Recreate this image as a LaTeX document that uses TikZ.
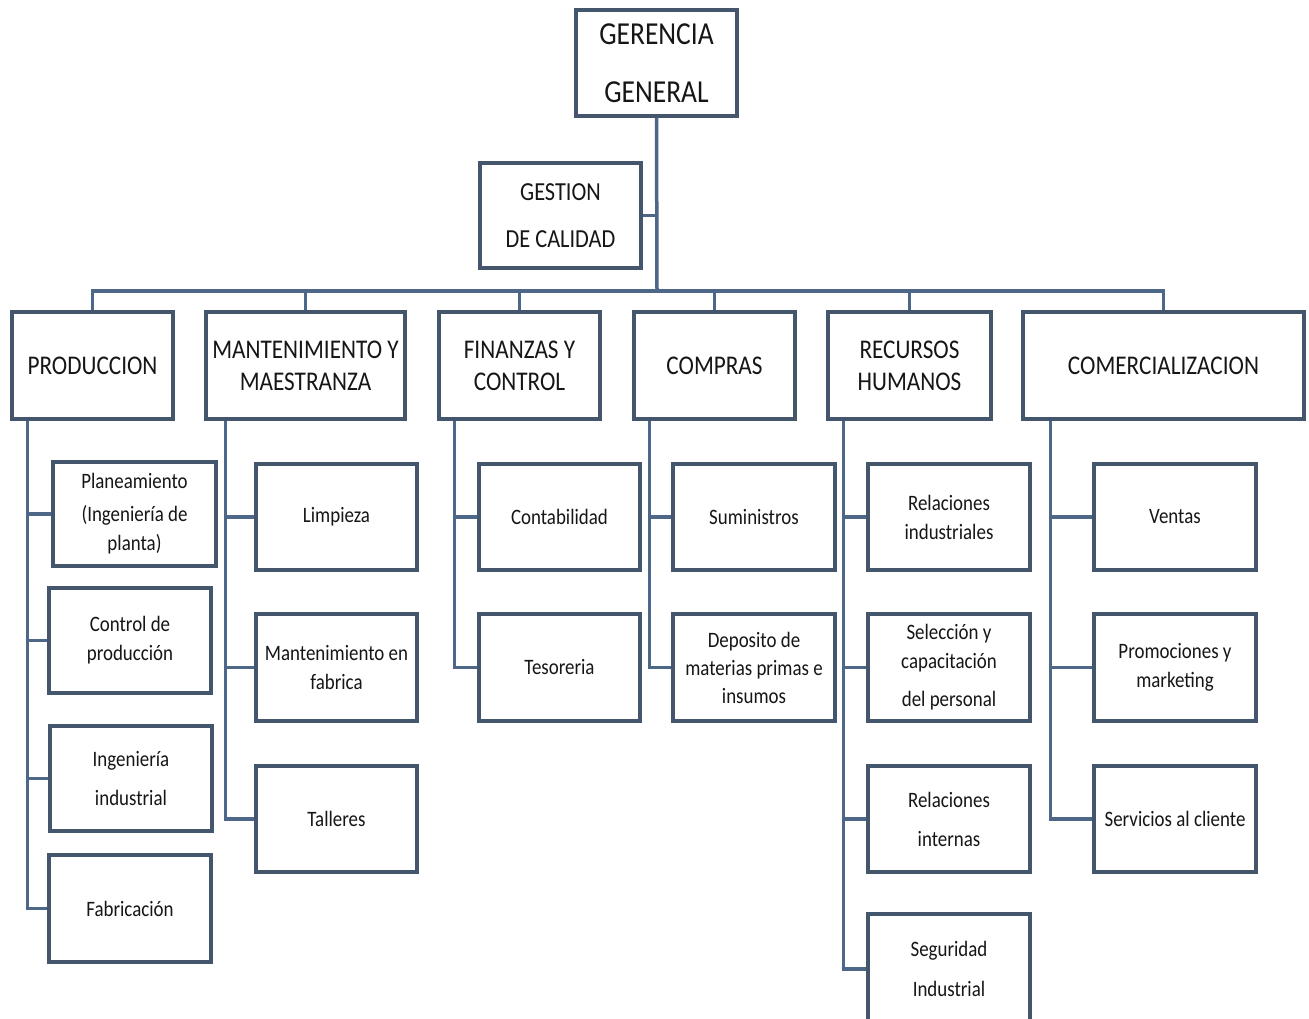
\documentclass[tikz,border=0pt]{standalone}
\usepackage{fontspec}
\setmainfont{Carlito}[FakeStretch=0.86]
\begin{document}
\definecolor{linec}{RGB}{76,103,136}
\definecolor{boxc}{RGB}{68,86,108}
\definecolor{txtc}{RGB}{22,22,22}
\tikzset{
  orgbox/.style={draw=boxc, line width=3.5pt, fill=white, align=center,
    inner sep=0pt, text=txtc},
  link/.style={draw=linec, line width=3.5pt},
}
% \obox{name}{x1}{y1}{x2}{y2}{font}{text}
\newcommand\obox[7]{%
  \node[orgbox, font=#6, minimum width={#4-#2}, minimum height={#5-#3}]
    (#1) at ({(#2+#4)/2},{(#3+#5)/2}) {#7};}
\newcommand\fgg{\fontsize{32}{58}\selectfont}
\newcommand\fgc{\fontsize{26}{47}\selectfont}
\newcommand\fdep{\fontsize{27}{32}\selectfont}
\newcommand\fsub{\fontsize{22}{29}\selectfont}
\begin{tikzpicture}[x=1pt,y=-1pt]
\clip (0,0) rectangle (1309,1019);
\useasboundingbox[fill=white] (0,0) rectangle (1309,1019);

% top level
\obox{gg}{576}{10}{737}{116}{\fgg}{GERENCIA\\GENERAL}
\obox{gc}{480}{163}{641}{268}{\fgc}{GESTION\\DE CALIDAD}
\coordinate (bus) at (657,291);

% departments
\obox{prod}{12}{312}{173}{419}{\fdep}{PRODUCCION}
\obox{mant}{206}{312}{405}{419}{\fdep}{MANTENIMIENTO Y\\MAESTRANZA}
\obox{fin}{439}{312}{600}{419}{\fdep}{FINANZAS Y\\CONTROL}
\obox{comp}{634}{312}{795}{419}{\fdep}{COMPRAS}
\obox{rrhh}{828}{312}{991}{419}{\fdep}{RECURSOS\\HUMANOS}
\obox{com}{1023}{312}{1304}{419}{\fdep}{COMERCIALIZACION}

% produccion
\obox{p1}{53}{462}{216}{566}{\fsub}{Planeamiento\\[4pt](Ingeniería de\\planta)}
\obox{p2}{49}{588}{211}{693}{\fsub}{Control de\\producción}
\obox{p3}{50}{726}{212}{831}{\fsub}{Ingeniería\\[10pt]industrial}
\obox{p4}{49}{855}{211}{962}{\fsub}{Fabricación}
% mantenimiento
\obox{m1}{256}{464}{417}{570}{\fsub}{Limpieza}
\obox{m2}{256}{614}{417}{721}{\fsub}{Mantenimiento en\\fabrica}
\obox{m3}{256}{766}{417}{872}{\fsub}{Talleres}
% finanzas
\obox{f1}{479}{464}{640}{570}{\fsub}{Contabilidad}
\obox{f2}{479}{614}{640}{721}{\fsub}{Tesoreria}
% compras
\obox{c1}{673}{464}{835}{570}{\fsub}{Suministros}
\obox{c2}{673}{614}{835}{721}{\fsub}{Deposito de\\[-1pt]materias primas e\\[-1pt]insumos}
% recursos humanos
\obox{r1}{868}{464}{1030}{570}{\fsub}{Relaciones\\industriales}
\obox{r2}{868}{614}{1030}{721}{\fsub}{Selección y\\capacitación\\[9pt]del personal}
\obox{r3}{868}{766}{1030}{872}{\fsub}{Relaciones\\[10pt]internas}
\obox{r4}{868}{914}{1030}{1024}{\fsub}{Seguridad\\[11pt]Industrial}
% comercializacion
\obox{v1}{1094}{464}{1256}{570}{\fsub}{Ventas}
\obox{v2}{1094}{614}{1256}{721}{\fsub}{Promociones y\\marketing}
\obox{v3}{1094}{766}{1256}{872}{\fsub}{Servicios al cliente}

% upper connectors
\draw[link] (gg.south) -- (bus);
\draw[link] (gc.east) -- (gc.east -| gg.south);
\draw[link] (prod.north) |- (bus) -| (com.north);
\foreach \d in {mant,fin,comp,rrhh}
  \draw[link] (\d.north) -- (\d.north |- bus);

% spines and branches
\foreach \d/\off/\kids in {prod/17/{p1,p2,p3,p4}, mant/21/{m1,m2,m3},
    fin/17/{f1,f2}, comp/17/{c1,c2}, rrhh/17/{r1,r2,r3,r4}, com/29/{v1,v2,v3}}
  \foreach \k in \kids
    \draw[link] ([xshift=\off pt]\d.south west) |- (\k.west);
\end{tikzpicture}
\end{document}
